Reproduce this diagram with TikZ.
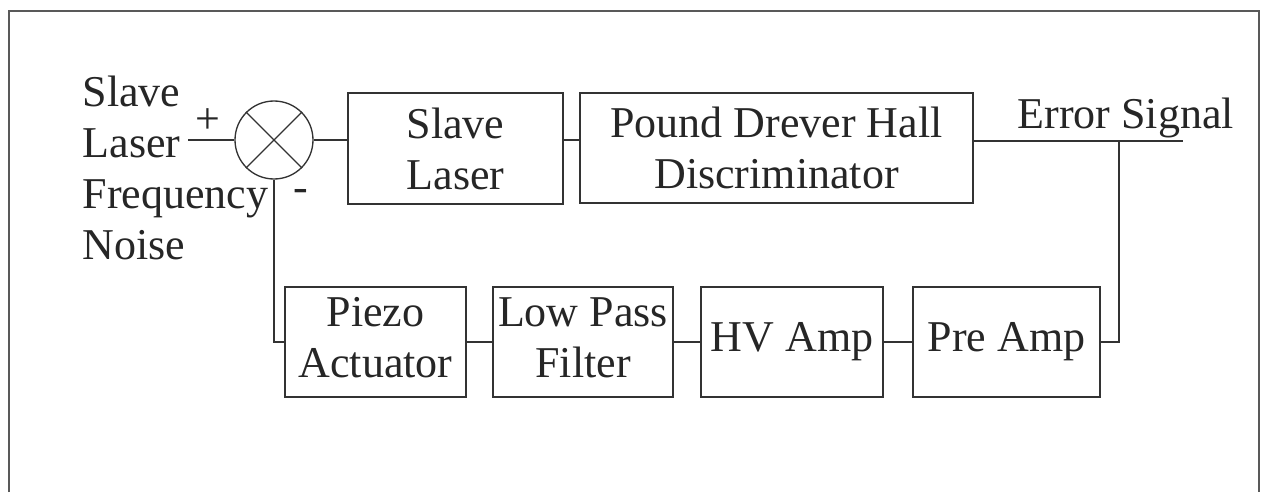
\documentclass[tikz,border=0pt]{standalone}
\usepackage{fontspec}
\setmainfont{Liberation Serif}
\begin{document}
\begin{tikzpicture}[x=0.75pt,y=-0.75pt,
  line width=1pt, draw=black!80,
  every node/.style={font=\fontsize{33pt}{38.25pt}\selectfont, text=black!85},
  blockbox/.style={draw=black!80, rectangle, inner sep=0pt, align=center},
  sumbox/.style={draw=black!80, circle, inner sep=0pt, minimum size=58.5pt},
  wire/.style={draw=black!80, line width=1pt},
  framelinestyle/.style={draw=black!65, line width=0.9pt}]
\useasboundingbox (0,0) rectangle (1262,492);
% outer frame (bottom edge cut off)
\draw[framelinestyle] (9,492) -- (9,11) -- (1259,11) -- (1259,492);

% summing junction
\node[sumbox] (sum) at (274,140) {};
\draw[wire] (sum.north west) -- (sum.south east);
\draw[wire] (sum.north east) -- (sum.south west);

% blocks
\node[blockbox, minimum width=161.25pt, minimum height=83.25pt] (sl) at (455.5,148.5) {Slave\\Laser};
\node[blockbox, minimum width=294.75pt, minimum height=82.5pt] (pdh) at (776.5,148) {Pound Drever Hall\\Discriminator};
\node[blockbox, minimum width=135.75pt, minimum height=82.5pt] (piezo) at (375.5,342) {\raisebox{4pt}{\begin{tabular}{@{}c@{}}Piezo\\Actuator\end{tabular}}};
\node[blockbox, minimum width=135pt, minimum height=82.5pt] (lpf) at (583,342) {\raisebox{3pt}{\begin{tabular}{@{}c@{}}Low Pass\\Filter\end{tabular}}};
\node[blockbox, minimum width=136.5pt, minimum height=82.5pt] (hv) at (792,342) {HV Amp};
\node[blockbox, minimum width=140.25pt, minimum height=82.5pt] (pre) at (1006.5,342) {Pre Amp};

% labels
\node[anchor=north west, inner sep=0pt, align=left] (inlabel) at (82,75) {Slave\\Laser\\Frequency\\Noise};
\node[inner sep=0pt] (plus) at (208,121) {+};
\node[inner sep=0pt] (minus) at (301,195) {-};
\node[anchor=base west, inner sep=0pt] (errlabel) at (1017,128) {Error Signal};

% coordinates
\coordinate (inend) at (188,140);
\coordinate (errend) at (1183,141);
\coordinate (tap) at (1119,141);

% connectors
\draw[wire] (inend) -- (sum.west);
\draw[wire] (sum.east) -- (sum.east -| sl.west);
\draw[wire] (sl.east |- sum.east) -- (pdh.west |- sum.east);
\draw[wire] (pdh.east |- errend) -- (errend);
\draw[wire] (tap) |- (pre.east);
\draw[wire] (pre.west) -- (hv.east);
\draw[wire] (hv.west) -- (lpf.east);
\draw[wire] (lpf.west) -- (piezo.east);
\draw[wire] (piezo.west) -| (sum.south);
\end{tikzpicture}
\end{document}
